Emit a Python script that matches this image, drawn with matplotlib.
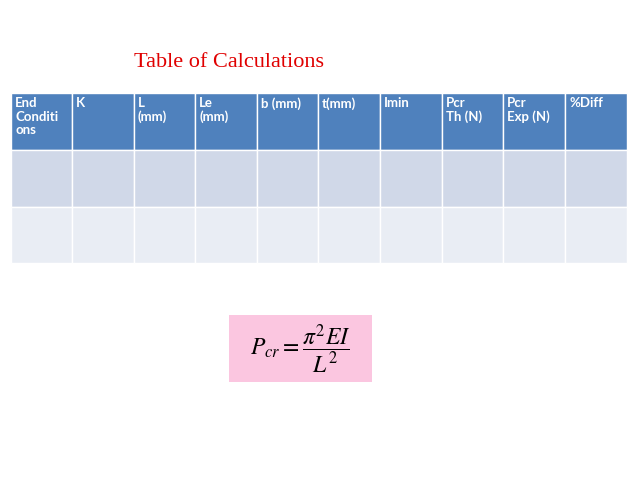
import matplotlib
matplotlib.use("Agg")
import matplotlib.pyplot as plt
from matplotlib.patches import Rectangle

title = "Table of Calculations"
headers = ["End\nConditi\nons", "K", "L\n(mm)", "Le\n(mm)", "b (mm)", "t(mm)",
           "Imin", "Pcr\nTh (N)", "Pcr\nExp (N)", "%Diff"]
n_rows = 2
col_edges = [11, 72, 134, 195, 257, 318, 380, 442, 503, 565, 627]
row_edges = [93, 150, 207, 263]
row_colors = ["#4F81BD", "#D0D8E8", "#E9EDF4"]

W, H = 638, 478
fig = plt.figure(figsize=(W/100, H/100), dpi=100)
ax = fig.add_axes([0, 0, 1, 1])
ax.set_xlim(0, W)
ax.set_ylim(H, 0)
ax.axis("off")

ax.text(229, 62, title, color="#E00000", fontsize=16, family="Liberation Serif",
        ha="center", va="center")

for r in range(n_rows + 1):
    for c in range(len(headers)):
        x0, x1 = col_edges[c], col_edges[c+1]
        y0, y1 = row_edges[r], row_edges[r+1]
        ax.add_patch(Rectangle((x0, y0), x1-x0, y1-y0, facecolor=row_colors[r],
                               edgecolor="white", linewidth=1))
for c, h in enumerate(headers):
    ax.text(col_edges[c] + 4, row_edges[0] + 4, h, color="white", fontsize=9.5,
            fontweight="bold", family="Lato", ha="left", va="top", linespacing=1.15)

ax.add_patch(Rectangle((229, 315), 143, 67, facecolor="#FBC6E0", edgecolor="none"))
ax.text(300, 349, r"$P_{cr}=\dfrac{\pi^2 EI}{L^2}$", fontsize=17, ha="center",
        va="center", math_fontfamily="stix")

fig.savefig("out.png", dpi=100)
